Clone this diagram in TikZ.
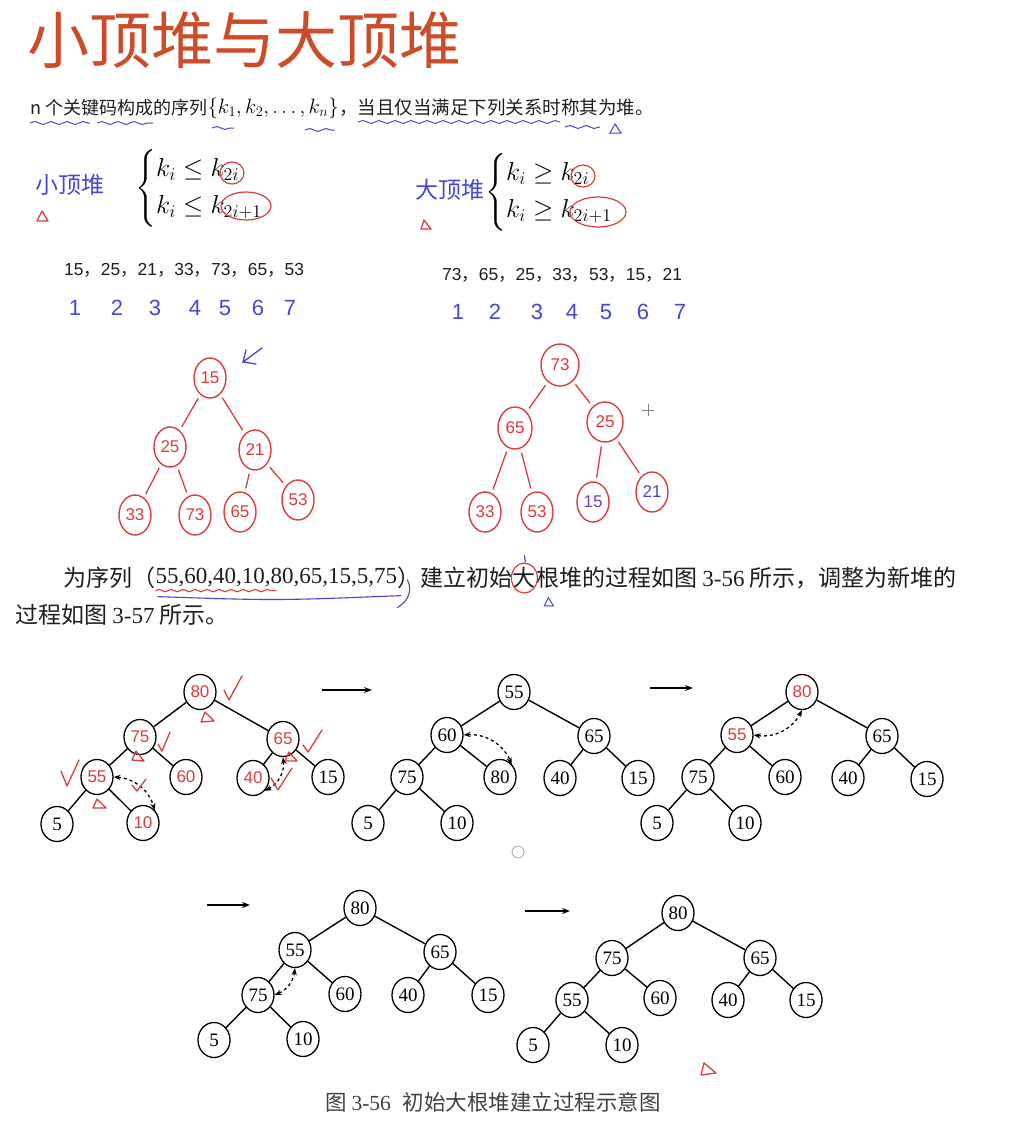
\documentclass[tikz,border=0pt]{standalone}
\usepackage{amsmath}
\usepackage{fontspec}
\usetikzlibrary{shapes.geometric,arrows.meta,decorations.pathmorphing,calc}
\newfontfamily\cjk{Noto Sans CJK SC}
\newfontfamily\arialf{Liberation Sans}
\newfontfamily\tnr{Liberation Serif}
\definecolor{hred}{RGB}{222,60,60}
\definecolor{tred}{RGB}{205,75,40}
\definecolor{hblue}{RGB}{70,70,215}
\definecolor{txt}{RGB}{30,30,30}
\newcommand\cc{{\cjk ，}}
\begin{document}
\begin{tikzpicture}[x=1pt,y=-1pt,
  pn/.style={ellipse,draw,line width=1.3pt,minimum width=32pt,minimum height=35pt,inner sep=0pt,font=\tnr\fontsize{19}{19}\selectfont},
  rn/.style={pn,text=hred,font=\arialf\fontsize{17}{17}\selectfont},
  hn/.style={ellipse,draw=hred,line width=1.4pt,minimum width=32pt,minimum height=40pt,inner sep=0pt,text=hred,font=\arialf\fontsize{17}{17}\selectfont},
  edge/.style={line width=1.4pt},
  hedge/.style={hred,line width=1.3pt,shorten >=4pt,shorten <=4pt},
  darr/.style={dashed,line width=1.3pt,{Stealth[length=7pt]}-{Stealth[length=7pt]}},
  stepar/.style={line width=1.5pt,-{Stealth[length=8pt]}},
  wave/.style={hblue,line width=1pt,decorate,decoration={snake,amplitude=1.5pt,segment length=16pt}},
  hmark/.style={hred,line width=1.3pt,line join=round,line cap=round},
  idx/.style={text=hblue,font=\arialf\fontsize{22}{22}\selectfont},
  body/.style={text=txt,inner sep=0pt,font=\cjk\fontsize{23}{26}\selectfont},
  formula/.style={anchor=west,inner sep=0pt,scale=1.25,transform shape,font=\fontsize{20.74}{28}\selectfont}]
\fill[white] (0,0) rectangle (1023,1133);
\useasboundingbox (0,0) rectangle (1023,1133);

% title
\node[anchor=west,text=tred,font=\cjk\fontsize{62}{66}\selectfont] (title) at (24,40) {小顶堆与大顶堆};

% definition line
\node[anchor=west,inner sep=0pt,text=txt,font=\cjk\fontsize{18}{20}\selectfont] (t1) at (30,108) {n 个关键码构成的序列};
\node[anchor=west,inner sep=0pt,font=\fontsize{20.74}{24}\selectfont] (t2) at (t1.east) {$\{k_1,k_2,\dots,k_n\}$};
\node[anchor=west,inner sep=0pt,text=txt,font=\cjk\fontsize{18.5}{20}\selectfont] (t3) at (t2.east) {，当且仅当满足下列关系时称其为堆。};
\draw[wave] (30,123) -- (90,123);
\draw[wave] (97,123) -- (153,123);
\draw[wave] (212,128) -- (234,128);
\draw[wave] (305,130) -- (335,130);
\draw[wave] (358,122) -- (560,122);
\draw[wave] (565,127) -- (600,127);
\draw[hblue,line width=1pt] (610,133) -- (615,124) -- (621,133) -- cycle;

% small heap definition
\node[text=hblue,font=\cjk\fontsize{23}{23}\selectfont] (xd) at (70,185) {小顶堆};
\draw[hmark] (37,221) -- (42,211) -- (48,221) -- cycle;
\node[formula] (f1) at (135,188)
  {$\left\{\begin{array}{@{}l@{}} k_i \le k_{2i}\\[1pt] k_i \le k_{2i+1}\end{array}\right.$};
\draw[hred,line width=1.2pt] (232,173) ellipse (12 and 11);
\draw[hred,line width=1.2pt] (246,206) ellipse (25 and 14);

% big heap definition
\node[text=hblue,font=\cjk\fontsize{23}{23}\selectfont] (dd) at (450,190) {大顶堆};
\draw[hmark] (421,229) -- (424,220) -- (431,229) -- cycle;
\node[formula] (f2) at (485,192)
  {$\left\{\begin{array}{@{}l@{}} k_i \ge k_{2i}\\[1pt] k_i \ge k_{2i+1}\end{array}\right.$};
\draw[hred,line width=1.2pt] (583,176) ellipse (12 and 11);
\draw[hred,line width=1.2pt] (598,212) ellipse (28 and 15);

% sequences
\node[anchor=west,inner sep=0pt,text=txt,font=\arialf\fontsize{17.4}{19}\selectfont] (s1) at (64,270) {15\cc 25\cc 21\cc 33\cc 73\cc 65\cc 53};
\node[anchor=west,inner sep=0pt,text=txt,font=\arialf\fontsize{17.4}{19}\selectfont] (s2) at (442,275) {73\cc 65\cc 25\cc 33\cc 53\cc 15\cc 21};
\foreach \n/\x in {1/75,2/117,3/155,4/195,5/225,6/258,7/290}
  \node[idx] (ia\n) at (\x,308) {\n};
\foreach \n/\x in {1/458,2/495,3/537,4/572,5/606,6/643,7/680}
  \node[idx] (ib\n) at (\x,312) {\n};

% handwritten small heap tree
\node[hn] (p1) at (210,378) {15};
\node[hn] (p2) at (170,447) {25};
\node[hn] (p3) at (255,450) {21};
\node[hn] (p4) at (135,515) {33};
\node[hn] (p5) at (195,515) {73};
\node[hn] (p6) at (240,512) {65};
\node[hn] (p7) at (298,500) {53};
\foreach \a/\b in {p1/p2,p1/p3,p2/p4,p2/p5,p3/p6,p3/p7} \draw[hedge] (\a) -- (\b);
\draw[hblue,line width=1.3pt,line cap=round] (262,348) -- (243,362) -- (246,350) (243,362) -- (256,364);

% handwritten big heap tree
\node[hn,minimum width=38pt,minimum height=42pt] (q1) at (560,365) {73};
\node[hn,minimum width=34pt,minimum height=42pt] (q2) at (515,428) {65};
\node[hn,minimum width=36pt,minimum height=40pt] (q3) at (605,422) {25};
\node[hn] (q4) at (485,512) {33};
\node[hn] (q5) at (537,512) {53};
\node[hn,text=hblue!70!hred] (q6) at (593,502) {15};
\node[hn,text=hblue] (q7) at (652,492) {21};
\foreach \a/\b in {q1/q2,q1/q3,q2/q4,q2/q5,q3/q6,q3/q7} \draw[hedge] (\a) -- (\b);
\draw[gray,line width=0.8pt] (642,410) -- (654,410) (648,404) -- (648,416);

% body text
\node[body,anchor=west] (b1) at (63,578) {为序列（};
\node[body,anchor=west,font=\tnr\fontsize{23}{26}\selectfont] (b2) at (b1.east) {55,60,40,10,80,65,15,5,75};
\node[body,anchor=west] (b3) at (b2.east) {）建立初始};
\node[body,anchor=west] (b4) at (b3.east) {大};
\node[body,anchor=west] (b5) at (b4.east) {根堆的过程如图 {\tnr 3-56} 所示，调整为新堆的};
\node[body,anchor=west] (b6) at (15,615) {过程如图 {\tnr 3-57} 所示。};
\draw[hred,line width=1.1pt,decorate,decoration={snake,amplitude=1.2pt,segment length=12pt}] ($(b2.south west)+(0,3)$) -- ($(b2.south west)!0.5!(b2.south east)+(0,3)$);
\draw[hblue,line width=1.1pt] ($(b2.south west)+(2,9)$) .. controls ($(b2.south)+(0,13)$) .. ($(b2.south east)+(4,8)$);
\draw[hblue,line width=1.1pt] ($(b2.south east)+(10,-8)$) .. controls ($(b2.south east)+(16,4)$) and ($(b2.south east)+(10,14)$) .. ($(b2.south east)+(0,20)$);
\draw[hred,line width=1.2pt] (b4.center) ellipse (13 and 15);
\draw[hblue,line width=1.2pt] ($(b4.north)+(0,-12)$) -- ($(b4.north)+(1,-5)$);
\draw[hblue,line width=1pt] ($(b4.south)+(20,17)$) -- ($(b4.south)+(24,9)$) -- ($(b4.south)+(29,17)$) -- cycle;

% tree 1 (a)
\begin{scope}[shift={(200,692)}]
\node[rn] (a0) at (0,0) {80};
\node[rn] (a1) at (-60,45) {75};
\node[rn] (a2) at (83,47) {65};
\node[rn] (a3) at (-103,85) {55};
\node[rn] (a4) at (-14,85) {60};
\node[rn] (a5) at (53,86) {40};
\node[pn] (a6) at (128,85) {15};
\node[pn] (a7) at (-143,132) {5};
\node[rn] (a8) at (-57,131) {10};
\end{scope}
% tree 2
\begin{scope}[shift={(514,692)}]
\node[pn] (c0) at (0,0) {55};
\node[pn] (c1) at (-67,43) {60};
\node[pn] (c2) at (80,44) {65};
\node[pn] (c3) at (-107,85) {75};
\node[pn] (c4) at (-14,85) {80};
\node[pn] (c5) at (46,86) {40};
\node[pn] (c6) at (124,86) {15};
\node[pn] (c7) at (-146,131) {5};
\node[pn] (c8) at (-57,131) {10};
\end{scope}
% tree 3
\begin{scope}[shift={(802,692)}]
\node[rn] (d0) at (0,0) {80};
\node[rn] (d1) at (-65,43) {55};
\node[pn] (d2) at (80,44) {65};
\node[pn] (d3) at (-104,85) {75};
\node[pn] (d4) at (-17,85) {60};
\node[pn] (d5) at (46,86) {40};
\node[pn] (d6) at (125,87) {15};
\node[pn] (d7) at (-145,131) {5};
\node[pn] (d8) at (-57,131) {10};
\end{scope}
% tree 4
\begin{scope}[shift={(360,908)}]
\node[pn] (e0) at (0,0) {80};
\node[pn] (e1) at (-65,42) {55};
\node[pn] (e2) at (80,44) {65};
\node[pn] (e3) at (-102,87) {75};
\node[pn] (e4) at (-15,86) {60};
\node[pn] (e5) at (48,87) {40};
\node[pn] (e6) at (128,87) {15};
\node[pn] (e7) at (-146,132) {5};
\node[pn] (e8) at (-57,131) {10};
\end{scope}
% tree 5
\begin{scope}[shift={(678,913)}]
\node[pn] (g0) at (0,0) {80};
\node[pn] (g1) at (-66,45) {75};
\node[pn] (g2) at (82,45) {65};
\node[pn] (g3) at (-106,87) {55};
\node[pn] (g4) at (-18,85) {60};
\node[pn] (g5) at (50,87) {40};
\node[pn] (g6) at (128,87) {15};
\node[pn] (g7) at (-145,132) {5};
\node[pn] (g8) at (-56,132) {10};
\end{scope}
\foreach \p in {a,c,d,e,g}{
  \draw[edge] (\p0) -- (\p1); \draw[edge] (\p0) -- (\p2);
  \draw[edge] (\p1) -- (\p3); \draw[edge] (\p1) -- (\p4);
  \draw[edge] (\p2) -- (\p5); \draw[edge] (\p2) -- (\p6);
  \draw[edge] (\p3) -- (\p7); \draw[edge] (\p3) -- (\p8);
}
% swap arrows
\draw[darr] (a3.east) to[bend left=35] (a8.north east);
\draw[darr] (a5.south east) to[bend right=35] (a2.south);
\draw[darr] (c1.east) to[bend left=35] (c4.north east);
\draw[darr] (d1.east) to[bend right=35] (d0.south);
\draw[darr] (e1.south) to[bend left=30] (e3.east);

% step arrows
\coordinate (r1s) at (322,690); \coordinate (r1e) at (372,690);
\coordinate (r2s) at (650,688); \coordinate (r2e) at (693,688);
\coordinate (r3s) at (207,905); \coordinate (r3e) at (250,905);
\coordinate (r4s) at (525,911); \coordinate (r4e) at (570,911);
\draw[stepar] (r1s) -- (r1e);
\draw[stepar] (r2s) -- (r2e);
\draw[stepar] (r3s) -- (r3e);
\draw[stepar] (r4s) -- (r4e);

% red annotations on tree 1
\draw[hmark] (224,690) -- (229,700) -- (242,676);
\draw[hmark] (158,744) -- (162,751) -- (170,732);
\draw[hmark] (303,745) -- (308,752) -- (322,730);
\draw[hmark] (61,771) -- (67,786) -- (79,760);
\draw[hmark] (132,785) -- (137,791) -- (146,779);
\draw[hmark] (271,778) -- (278,790) -- (292,768);
\draw[hmark] (201,722) -- (205,712) -- (214,721) -- cycle;
\draw[hmark] (132,760) -- (136,751) -- (144,761) -- cycle;
\draw[hmark] (93,808) -- (97,799) -- (106,808) -- cycle;
\draw[hmark] (285,761) -- (289,752) -- (297,761) -- cycle;
% red triangle near tree 5
\draw[hmark] (701,1075) -- (704,1063) -- (716,1073) -- cycle;
% cursor artefact
\draw[gray!70,line width=0.8pt] (518,852) circle (6);

% caption
\node[anchor=west,inner sep=0pt,text=txt!85,font=\cjk\fontsize{21.5}{24}\selectfont] (cap) at (325,1102) {图 {\tnr 3-56}\hspace{12pt}初始大根堆建立过程示意图};
\end{tikzpicture}
\end{document}
